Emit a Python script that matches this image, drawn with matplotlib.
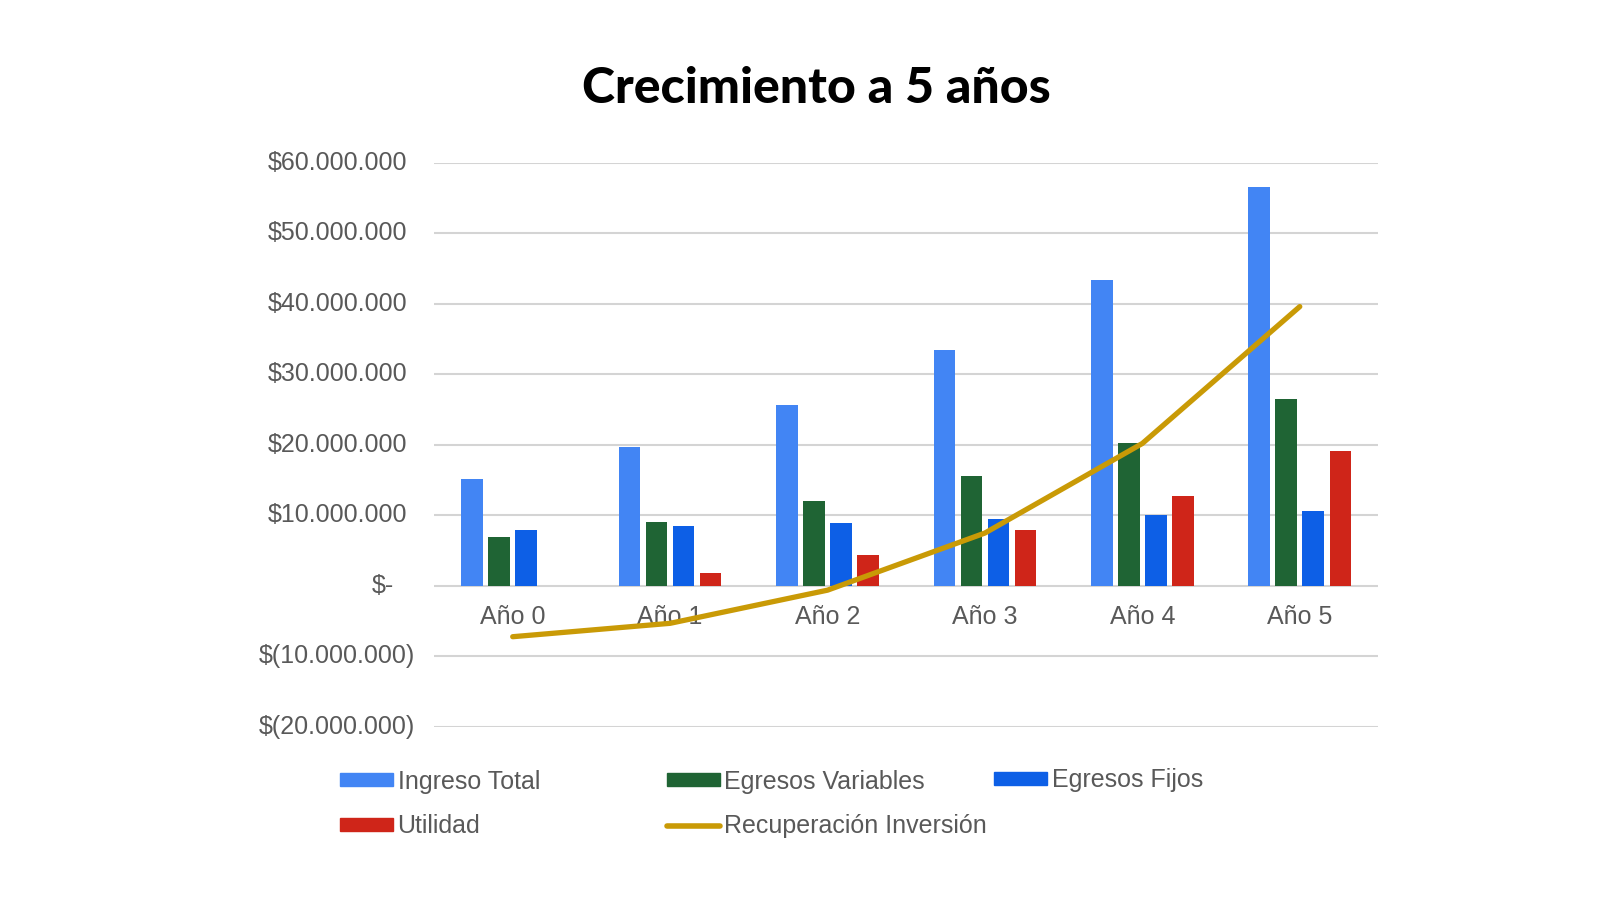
import numpy as np
import matplotlib.pyplot as plt
from matplotlib.patches import Patch
from matplotlib.lines import Line2D

anos = ['Año 0', 'Año 1', 'Año 2', 'Año 3', 'Año 4', 'Año 5']
ingreso_total = [15.1e6, 19.7e6, 25.7e6, 33.4e6, 43.4e6, 56.5e6]
egresos_variables = [6.95e6, 9.1e6, 12.0e6, 15.6e6, 20.2e6, 26.5e6]
egresos_fijos = [7.9e6, 8.5e6, 8.9e6, 9.45e6, 10.1e6, 10.6e6]
utilidad = [0, 1.8e6, 4.35e6, 7.9e6, 12.8e6, 19.1e6]
recuperacion = [-7.2e6, -5.3e6, -0.6e6, 7.5e6, 20.2e6, 39.6e6]
yticks = [-20e6, -10e6, 0, 10e6, 20e6, 30e6, 40e6, 50e6, 60e6]

c_ing = '#4285f4'
c_var = '#1f6434'
c_fij = '#0d5fe6'
c_uti = '#cf2519'
c_rec = '#c99a06'
txt = '#595959'

plt.rcParams['font.family'] = ['Liberation Sans', 'DejaVu Sans']

fig = plt.figure(figsize=(16, 9), dpi=100)
ax = fig.add_axes([0.27125, 0.19222, 0.5903, 0.627])

x = np.arange(len(anos))
w = 0.137
step = 0.1716
series = [(ingreso_total, c_ing), (egresos_variables, c_var),
          (egresos_fijos, c_fij), (utilidad, c_uti)]
for i, (vals, col) in enumerate(series):
    ax.bar(x + (i - 1.5) * step, vals, w, color=col, zorder=2)

ax.plot(x, recuperacion, color=c_rec, lw=3.8, solid_capstyle='round',
        solid_joinstyle='round', zorder=3)

ax.set_xlim(-0.5, len(anos) - 0.5)
ax.set_ylim(-20e6, 60e6)
ax.set_yticks(yticks)
ax.grid(axis='y', color='#d4d4d4', lw=1.5, zorder=0)
ax.set_axisbelow(True)
for s in ax.spines.values():
    s.set_visible(False)
ax.spines['bottom'].set_position(('data', 0))
ax.tick_params(axis='y', length=0, labelleft=False)
ax.tick_params(axis='x', length=0, pad=14, labelsize=18, labelcolor=txt)
ax.set_xticks(x)
ax.set_xticklabels(anos)

# etiquetas eje y, formato contable
for v in yticks:
    if v == 0:
        lab, xo = '$-', -0.0424
    elif v < 0:
        lab, xo = '$(' + f'{-v:,.0f}'.replace(',', '.') + ')', -0.0201
    else:
        lab, xo = '$' + f'{v:,.0f}'.replace(',', '.'), -0.0286
    ax.text(xo, v, lab, transform=ax.get_yaxis_transform(), ha='right',
            va='center', fontsize=18, color=txt)

fig.text(0.51, 0.902, 'Crecimiento a 5 años', ha='center', va='center',
         fontsize=36, fontweight='black', family=['Lato', 'DejaVu Sans'])

# leyenda en tres columnas
kw = dict(frameon=False, fontsize=18, handlelength=2.1, handleheight=0.42,
          handletextpad=0.2, labelspacing=0.82, borderpad=0, borderaxespad=0,
          loc='center left', labelcolor=txt)
col1 = [Patch(color=c_ing), Patch(color=c_uti)]
col2 = [Patch(color=c_var), Line2D([], [], color=c_rec, lw=4, solid_capstyle='round')]
col3 = [Patch(color=c_fij)]
l1 = fig.legend(col1, ['Ingreso Total', 'Utilidad'],
                bbox_to_anchor=(340 / 1600, 1 - 804 / 900), **kw)
l2 = fig.legend(col2, ['Egresos Variables', 'Recuperación Inversión'],
                bbox_to_anchor=(667 / 1600, 1 - 804 / 900), **kw)
l3 = fig.legend(col3, ['Egresos Fijos'],
                bbox_to_anchor=(994 / 1600, 1 - 780.5 / 900), **kw)

fig.savefig('out.png', dpi=100, facecolor='white')
